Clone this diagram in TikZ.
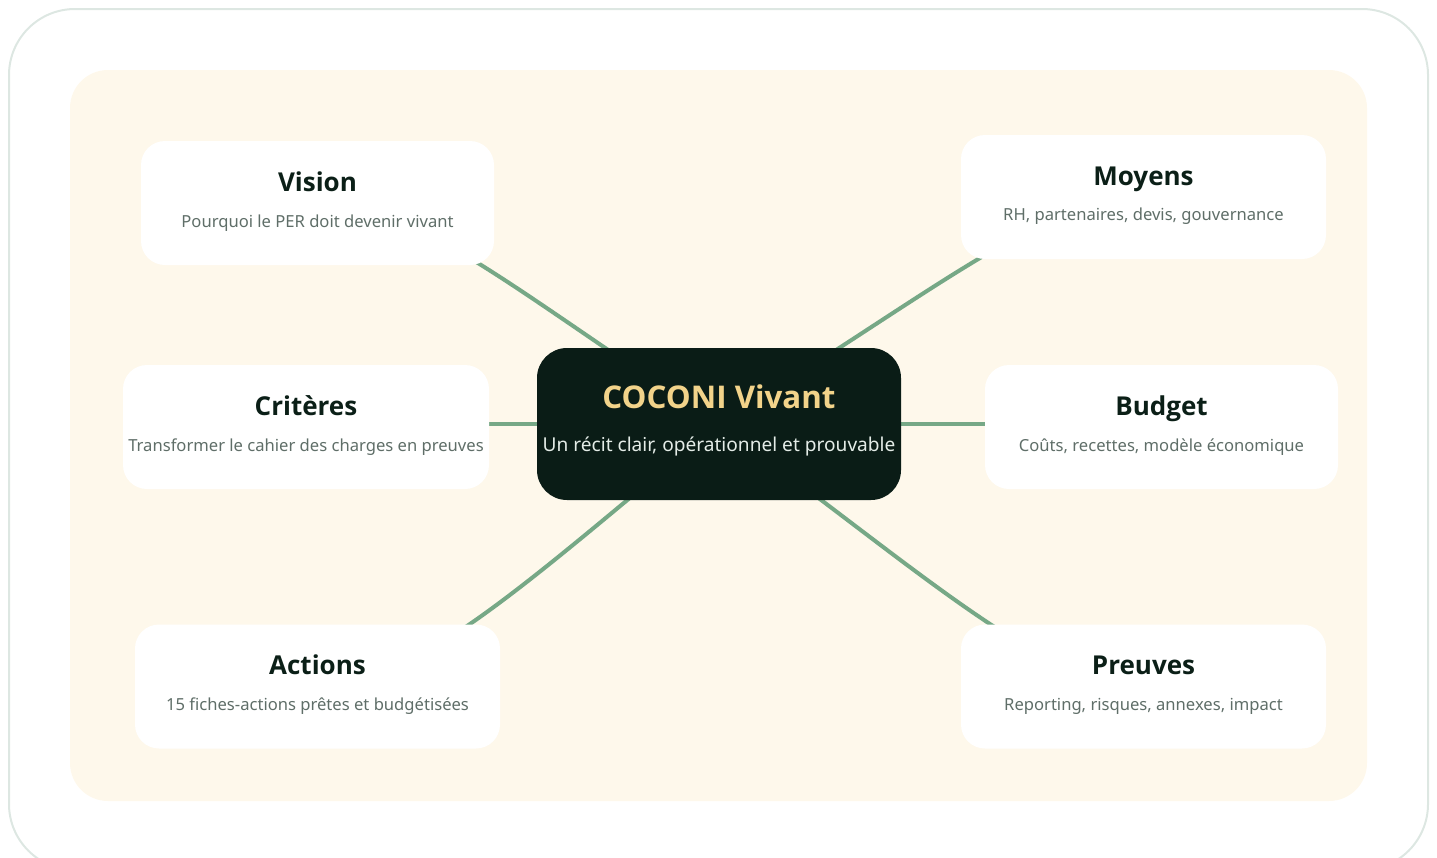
\documentclass[tikz,border=0pt]{standalone}
\usepackage{fontspec}
\setmainfont{Noto Sans}
\newfontfamily\headfont{Open Sans}
\usetikzlibrary{backgrounds}

\definecolor{frameline}{HTML}{DDE7E2}
\definecolor{panelcream}{HTML}{FEF8EB}
\definecolor{coredark}{HTML}{0A1C16}
\definecolor{coregold}{HTML}{F2D38A}
\definecolor{corelight}{HTML}{E4ECE7}
\definecolor{inkdark}{HTML}{0B1F17}
\definecolor{inkgrey}{HTML}{5F6E68}
\definecolor{linkgreen}{HTML}{76A886}

\tikzset{
  leaf/.style={fill=white, rounded corners=24pt, minimum height=124pt, inner sep=0pt, align=center},
  core/.style={fill=coredark, rounded corners=30pt, minimum width=364pt, minimum height=152pt, inner sep=0pt, align=center},
  link/.style={draw=linkgreen, line width=4pt},
}
\newcommand{\leaftitle}[1]{{\headfont\fontsize{26}{30}\selectfont\bfseries\color{inkdark}\rule[-7pt]{0pt}{26pt}#1}}
\newcommand{\leafsub}[1]{{\fontsize{16.6}{20}\selectfont\color{inkgrey}\rule[-7.1pt]{0pt}{14pt}#1}}

\begin{document}
\begin{tikzpicture}[x=1pt,y=-1pt]
\useasboundingbox (0,0) rectangle (1437,857);

\node[core] (core) at (719,424)
  {{\headfont\fontsize{31.3}{34}\selectfont\bfseries\color{coregold}COCONI Vivant}\\[27pt]
   {\fontsize{19.1}{22}\selectfont\color{corelight}Un récit clair, opérationnel et prouvable\rule[-12.6pt]{0pt}{1pt}}};

\node[leaf, minimum width=353pt] (vision) at (317.5,203)
  {\leaftitle{Vision}\\[15pt]\leafsub{Pourquoi le PER doit devenir vivant}};
\node[leaf, minimum width=365pt] (moyens) at (1143.5,197)
  {\leaftitle{Moyens}\\[15pt]\leafsub{RH, partenaires, devis, gouvernance}};
\node[leaf, minimum width=366pt] (criteres) at (306,427)
  {\leaftitle{Critères}\\[15pt]\leafsub{Transformer le cahier des charges en preuves}};
\node[leaf, minimum width=353pt] (budget) at (1161.5,427)
  {\leaftitle{Budget}\\[15pt]\leafsub{Coûts, recettes, modèle économique}};
\node[leaf, minimum width=365pt] (actions) at (317.5,686.5)
  {\leaftitle{Actions}\\[15pt]\leafsub{15 fiches-actions prêtes et budgétisées}};
\node[leaf, minimum width=365pt] (preuves) at (1143.5,686.5)
  {\leaftitle{Preuves}\\[15pt]\leafsub{Reporting, risques, annexes, impact}};

\begin{scope}[on background layer]
% frame and panel
\draw[frameline, line width=2pt, rounded corners=66pt] (9,9) rectangle (1428,870);
\fill[panelcream, rounded corners=38pt] (70,70) rectangle (1367,801);
% branches
\draw[link] (core.center) .. controls +(-205,-133) and +(100,0) .. (vision.center);
\draw[link] (core.center) .. controls +(210,-128) and +(-100,0) .. (moyens.center);
\draw[link] (core.west) -- (core.west -| criteres.east);
\draw[link] (core.east) -- (core.east -| budget.west);
\draw[link] (core.center) .. controls +(-190,156) and +(100,0) .. (actions.center);
\draw[link] (core.center) .. controls +(200,145) and +(-100,0) .. (preuves.center);
\end{scope}
\end{tikzpicture}
\end{document}
